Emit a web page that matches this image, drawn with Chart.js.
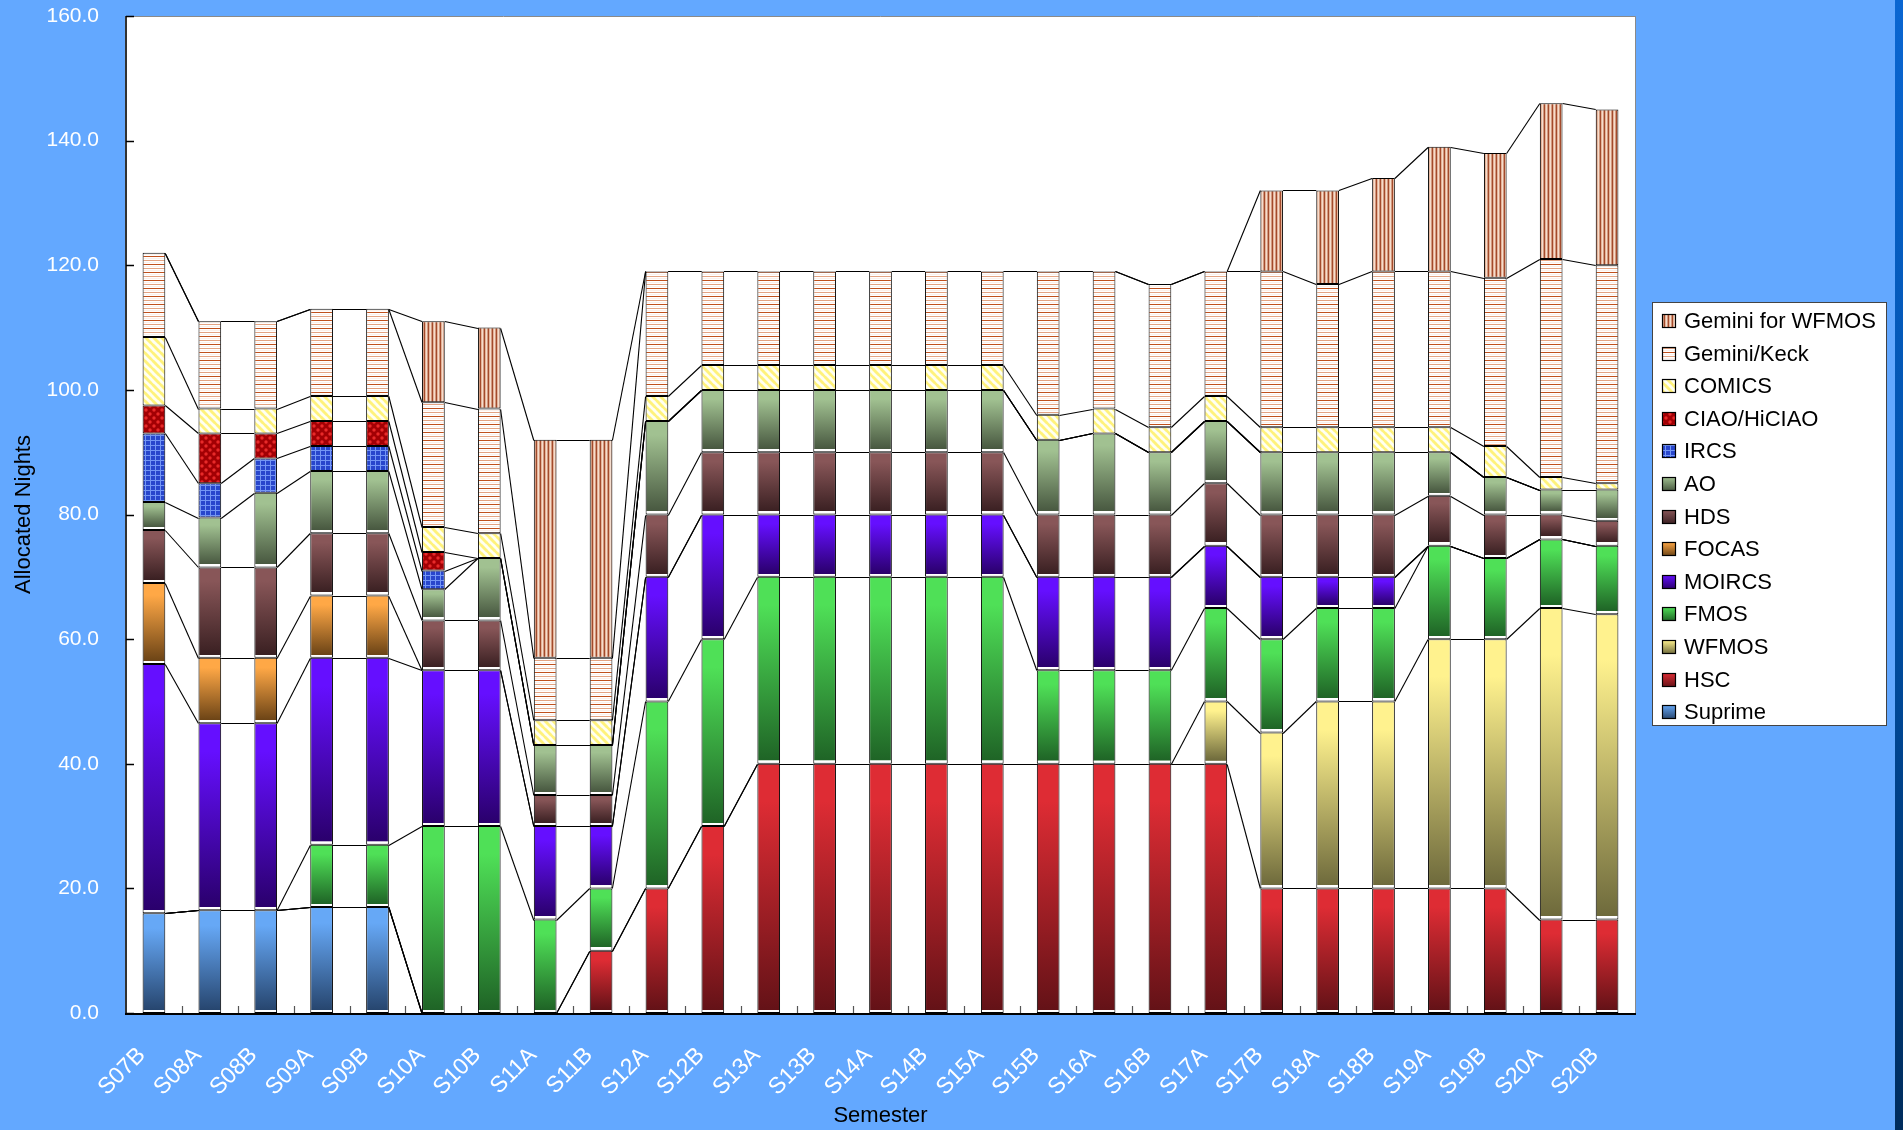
<!DOCTYPE html>
<html>
<head>
<meta charset="utf-8">
<script src="https://cdn.jsdelivr.net/npm/chart.js@4.4.1/dist/chart.umd.min.js"></script>
<style>
html,body{margin:0;padding:0;background:#63a8ff;}
canvas{display:block;}
</style>
</head>
<body>
<canvas id="c" width="1903" height="1130"></canvas>
<script>
// ---------------- DATA ----------------
const semesters = ['S07B','S08A','S08B','S09A','S09B','S10A','S10B','S11A','S11B','S12A','S12B','S13A','S13B','S14A','S14B','S15A','S15B','S16A','S16B','S17A','S17B','S18A','S18B','S19A','S19B','S20A','S20B'];
const yTicks = [0,20,40,60,80,100,120,140,160];

const suprime  = [16,16.5,16.5,17,17,0,0,0,0,0,0,0,0,0,0,0,0,0,0,0,0,0,0,0,0,0,0];
const hsc      = [0,0,0,0,0,0,0,0,10,20,30,40,40,40,40,40,40,40,40,40,20,20,20,20,20,15,15];
const wfmos    = [0,0,0,0,0,0,0,0,0,0,0,0,0,0,0,0,0,0,0,10,25,30,30,40,40,50,49];
const fmos     = [0,0,0,10,10,30,30,15,10,30,30,30,30,30,30,30,15,15,15,15,15,15,15,15,13,11,11];
const moircs   = [40,30,30,30,30,25,25,15,10,20,20,10,10,10,10,10,15,15,15,10,10,5,5,0,0,0,0];
const focas    = [13,10.5,10.5,10,10,0,0,0,0,0,0,0,0,0,0,0,0,0,0,0,0,0,0,0,0,0,0];
const hds      = [8.5,14.5,14.5,10,10,8,8,5,5,10,10,10,10,10,10,10,10,10,10,10,10,10,10,8,7,4,4];
const ao       = [4.5,8,12,10,10,5,10,8,8,15,10,10,10,10,10,10,12,13,10,10,10,10,10,7,6,4,5];
const ircs     = [11,5.5,5.5,4,4,3,0,0,0,0,0,0,0,0,0,0,0,0,0,0,0,0,0,0,0,0,0];
const ciao     = [4.5,8,4,4,4,3,0,0,0,0,0,0,0,0,0,0,0,0,0,0,0,0,0,0,0,0,0];
const comics   = [11,4,4,4,4,4,4,4,4,4,4,4,4,4,4,4,4,4,4,4,4,4,4,4,5,2,1];
const geminiKeck  = [13.5,14,14,14,14,20,20,10,10,20,15,15,15,15,15,15,23,22,23,20,25,23,25,25,27,35,35];
const geminiWfmos = [0,0,0,0,0,13,13,35,35,0,0,0,0,0,0,0,0,0,0,0,13,15,15,20,20,25,25];

const seriesNames = ['Suprime','HSC','WFMOS','FMOS','MOIRCS','FOCAS','HDS','AO','IRCS','CIAO/HiCIAO','COMICS','Gemini/Keck','Gemini for WFMOS'];
const seriesValues = [suprime,hsc,wfmos,fmos,moircs,focas,hds,ao,ircs,ciao,comics,geminiKeck,geminiWfmos];

// ---------------- STYLE ----------------
const FONT = 'Liberation Sans, Arial, sans-serif';
const canvas = document.getElementById('c');
const c2d = canvas.getContext('2d');

function tile(w,h,draw){const t=document.createElement('canvas');t.width=w;t.height=h;const g=t.getContext('2d');draw(g,w,h);return c2d.createPattern(t,'repeat');}

const patVertical = tile(4,1,(g)=>{['#a34a2c','#e4b49a','#f5dccd','#d29a7e'].forEach((col,i)=>{g.fillStyle=col;g.fillRect(i,0,1,1);});});
const patHorizontal = tile(1,8,(g)=>{['#c0501c','#ffffff','#fbf0ea','#ffffff','#e3a382','#ffffff','#fbf0ea','#ffffff'].forEach((col,i)=>{g.fillStyle=col;g.fillRect(0,i,1,1);});});
const patDiag = tile(8,8,(g,w,h)=>{g.fillStyle='#fffff2';g.fillRect(0,0,w,h);g.strokeStyle='#fff27c';g.lineWidth=2.6;
  [[-8,0,8,16],[0,0,8,8],[0,-8,16,8],[-8,-8,8,8]].forEach(l=>{g.beginPath();g.moveTo(l[0],l[1]);g.lineTo(l[2],l[3]);g.stroke();});});
const patDots = tile(8,8,(g,w,h)=>{g.fillStyle='#a20004';g.fillRect(0,0,w,h);g.fillStyle='#e82a2a';
  [[2,2],[6,6]].forEach(p=>{g.beginPath();g.arc(p[0],p[1],1.7,0,Math.PI*2);g.fill();});});
const patGrid = tile(5,5,(g,w,h)=>{g.fillStyle='#2846cc';g.fillRect(0,0,w,h);g.fillStyle='#7496f4';g.fillRect(0,0,5,1);g.fillRect(0,0,1,5);});

// gradient colours (top, bottom) or pattern
const looks = [
  {top:'#66a8f6', bot:'#27466f'},   // Suprime
  {top:'#de2c34', bot:'#641217'},   // HSC
  {top:'#fff28e', bot:'#6e6a3c'},   // WFMOS
  {top:'#4fe057', bot:'#1f6426'},   // FMOS
  {top:'#650fff', bot:'#2a006c'},   // MOIRCS
  {top:'#ffa846', bot:'#6c4416'},   // FOCAS
  {top:'#885658', bot:'#3a2022'},   // HDS
  {top:'#a1c191', bot:'#485840'},   // AO
  {pat:patGrid},                    // IRCS
  {pat:patDots},                    // CIAO
  {pat:patDiag},                    // COMICS
  {pat:patHorizontal},              // Gemini/Keck
  {pat:patVertical}                 // Gemini for WFMOS
];

function makeFill(di){
  const lk = looks[di];
  if (lk.pat) return lk.pat;
  return function(ctx){
    const chart = ctx.chart;
    if (!chart.chartArea || ctx.dataIndex === undefined || !chart.scales.y) return lk.top;
    const i = ctx.dataIndex;
    let base = 0;
    for (let k=0;k<di;k++) base += seriesValues[k][i];
    const v = seriesValues[di][i];
    const ys = chart.scales.y;
    const yt = ys.getPixelForValue(base+v), yb = ys.getPixelForValue(base);
    const h = yb-yt;
    if (!(h>0)) return lk.top;
    const g = chart.ctx.createLinearGradient(0,yt,0,yb);
    g.addColorStop(0,lk.top);
    g.addColorStop(0.15,lk.top);
    const wEdge = Math.max(0,1-3.2/h);
    g.addColorStop(Math.max(0.16,wEdge-0.001),lk.bot);
    g.addColorStop(Math.max(0.161,wEdge),'#ffffff');
    g.addColorStop(1,'#ffffff');
    return g;
  };
}

// ---------------- PLUGINS ----------------
const backdrop = {
  id:'backdrop',
  beforeDraw(chart){
    const {ctx, chartArea:a} = chart;
    ctx.save();
    ctx.fillStyle='#63a8ff'; ctx.fillRect(0,0,chart.width,chart.height);
    const sg = ctx.createLinearGradient(0,0,0,chart.height);
    sg.addColorStop(0,'#0a66d2'); sg.addColorStop(0.5,'#0050a8'); sg.addColorStop(1,'#002c5c');
    ctx.fillStyle=sg; ctx.fillRect(1895,0,8,chart.height);
    ctx.fillStyle='#ffffff'; ctx.fillRect(a.left,a.top,a.right-a.left,a.bottom-a.top);
    ctx.restore();
  },
  afterDatasetsDraw(chart){
    const {ctx, chartArea:a} = chart;
    ctx.save();
    // series lines
    ctx.strokeStyle='#000'; ctx.lineWidth=1.1;
    chart.data.datasets.forEach((ds,di)=>{
      const meta = chart.getDatasetMeta(di);
      for (let i=0;i<meta.data.length-1;i++){
        const p = meta.data[i], q = meta.data[i+1];
        ctx.beginPath();
        ctx.moveTo(p.x+p.width/2, Math.round(p.y)+0.5);
        ctx.lineTo(q.x-q.width/2, Math.round(q.y)+0.5);
        ctx.stroke();
      }
    });
    // frame
    ctx.strokeStyle='#8a8a8a'; ctx.lineWidth=1;
    ctx.beginPath(); ctx.moveTo(a.left,a.top+0.5); ctx.lineTo(a.right+0.5,a.top+0.5); ctx.lineTo(a.right+0.5,a.bottom); ctx.stroke();
    ctx.strokeStyle='#333'; ctx.lineWidth=2;
    ctx.beginPath(); ctx.moveTo(a.left,a.top); ctx.lineTo(a.left,a.bottom+1); ctx.stroke();
    ctx.strokeStyle='#000';
    ctx.beginPath(); ctx.moveTo(a.left-1,a.bottom+1); ctx.lineTo(a.right+1,a.bottom+1); ctx.stroke();
    // inner ticks
    const ys = chart.scales.y, xs = chart.scales.x;
    ctx.lineWidth=1.5; ctx.strokeStyle='#000';
    yTicks.forEach(t=>{const py=Math.round(ys.getPixelForValue(t))+0.5; ctx.beginPath(); ctx.moveTo(a.left,py); ctx.lineTo(a.left+8,py); ctx.stroke();});
    ctx.strokeStyle='#555'; ctx.lineWidth=1.2;
    for (let i=1;i<semesters.length;i++){
      const px = Math.round((xs.getPixelForValue(i-1)+xs.getPixelForValue(i))/2)+0.5;
      ctx.beginPath(); ctx.moveTo(px,a.bottom); ctx.lineTo(px,a.bottom-7); ctx.stroke();
    }
    ctx.restore();
  },
  afterDraw(chart){
    const ctx = chart.ctx;
    ctx.save();
    const L=1652, T=302, R=1887, B=726;
    ctx.fillStyle='#fff'; ctx.fillRect(L,T,R-L,B-T);
    ctx.strokeStyle='#444'; ctx.lineWidth=1; ctx.strokeRect(L+0.5,T+0.5,R-L-1,B-T-1);
    ctx.font='22px '+FONT; ctx.textBaseline='middle'; ctx.textAlign='left';
    for (let j=0;j<seriesNames.length;j++){
      const di = seriesNames.length-1-j;
      const cy = 321 + j*32.6;
      const bx=1662, by=Math.round(cy-7), bs=14;
      const lk = looks[di];
      if (lk.pat) ctx.fillStyle=lk.pat;
      else { const g=ctx.createLinearGradient(0,by,0,by+bs); g.addColorStop(0,lk.top); g.addColorStop(1,lk.bot); ctx.fillStyle=g; }
      ctx.fillRect(bx,by,bs,bs);
      ctx.strokeStyle='#000'; ctx.lineWidth=1.2; ctx.strokeRect(bx+0.5,by+0.5,bs-1,bs-1);
      ctx.fillStyle='#000';
      ctx.fillText(seriesNames[di],1684,cy+1);
    }
    ctx.restore();
  }
};

// ---------------- CHART ----------------
new Chart(c2d, {
  type:'bar',
  data:{
    labels: semesters,
    datasets: seriesNames.map((name,di)=>({
      label:name,
      data:seriesValues[di],
      backgroundColor:makeFill(di),
      borderColor:'#000',
      borderWidth:1,
      borderSkipped:false,
      barPercentage:0.406,
      categoryPercentage:1.0
    }))
  },
  options:{
    responsive:false,
    animation:false,
    devicePixelRatio:1,
    layout:{padding:{top:16,right:268,bottom:0,left:0}},
    plugins:{legend:{display:false}, tooltip:{enabled:false}},
    scales:{
      x:{
        stacked:true,
        grid:{display:false, drawTicks:false},
        border:{display:false},
        ticks:{color:'#fff', font:{family:FONT, size:23}, maxRotation:45, minRotation:45, autoSkip:false, padding:29, labelOffset:-12},
        title:{display:true, text:'Semester', color:'#000', font:{family:FONT, size:22}, padding:{top:0,bottom:1}},
        afterFit(s){ s.height = 117; s.paddingLeft = 0; s.paddingRight = 0; }
      },
      y:{
        stacked:true, min:0, max:160,
        afterBuildTicks(s){ s.ticks = yTicks.map(v=>({value:v})); },
        grid:{display:false, drawTicks:false},
        border:{display:false},
        ticks:{color:'#fff', font:{family:FONT, size:21}, padding:27, callback:(v)=>Number(v).toFixed(1)},
        title:{display:true, text:'Allocated Nights', color:'#000', font:{family:FONT, size:22}, padding:{top:11,bottom:0}},
        afterFit(s){ s.width = 126; s.paddingTop = 0; s.paddingBottom = 0; }
      }
    }
  },
  plugins:[backdrop]
});
</script>
</body>
</html>
